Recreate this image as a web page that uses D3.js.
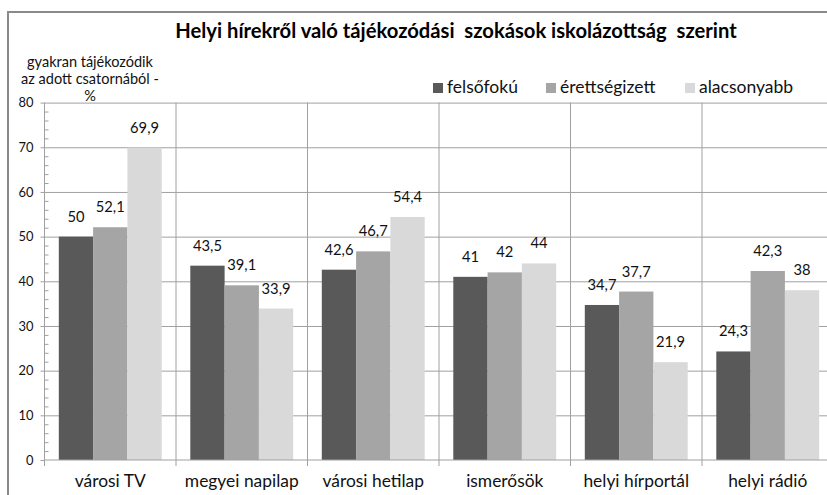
<!DOCTYPE html>
<html><head><meta charset="utf-8">
<script src="https://cdn.jsdelivr.net/npm/d3@7"></script>
<style>
body{margin:0;background:#fff}
svg{display:block}
text{font-family:Lato,'Open Sans',sans-serif;fill:#000}
</style>
</head><body>
<svg id="c" width="827" height="495"></svg>
<script>
// ---- data ----
const categories = ["városi TV","megyei napilap","városi hetilap","ismerősök","helyi hírportál","helyi rádió"];
const seriesNames = ["felsőfokú","érettségizett","alacsonyabb"];
const felsofoku = [50,43.5,42.6,41,34.7,24.3];
const erettsegizett = [52.1,39.1,46.7,42,37.7,42.3];
const alacsonyabb = [69.9,33.9,54.4,44,21.9,38];
const yTicks = [0,10,20,30,40,50,60,70,80];
const titleText = "Helyi hírekről való tájékozódási  szokások iskolázottság  szerint";
const yTitleLines = ["gyakran tájékozódik","az adott csatornából -","%"];

const seriesValues = [felsofoku, erettsegizett, alacsonyabb];
const colors = ["#595959","#a5a5a5","#d9d9d9"];
const gridColor = "#a0a0a0";

const svg = d3.select("#c");
svg.append("rect").attr("width",827).attr("height",495).attr("fill","#fff");
svg.append("rect").attr("x",8).attr("y",12).attr("width",900).attr("height",600)
  .attr("fill","none").attr("stroke","#8a8a8a").attr("stroke-width",2);

const pLeft = 44.5, band = 131.5, pTop = 102.6, pBottom = 460;
const x = d3.scaleBand().domain(categories).range([pLeft, pLeft + band*categories.length]);
const xs = d3.scaleBand().domain(seriesNames).range([14.3, band - 14.3]);
const y = d3.scaleLinear().domain([0,80]).range([pBottom, pTop]);
const plotW = band*categories.length;

function fit(sel, target){
  const w = sel.node().getComputedTextLength();
  const fs = parseFloat(sel.style("font-size"));
  sel.style("font-size", (fs*target/w) + "px");
}

// horizontal gridlines
const grid = svg.append("g").attr("transform",`translate(${pLeft},0)`)
  .call(d3.axisLeft(y).tickValues(yTicks.filter(v=>v>0)).tickSize(-plotW).tickFormat(""));
grid.select(".domain").remove();
grid.selectAll("line").attr("stroke",gridColor);

// vertical category-boundary gridlines + ticks below axis
const bounds = categories.map(c => x(c));
svg.append("g").selectAll("line").data(bounds.slice(1)).join("line")
  .attr("x1",d=>d).attr("x2",d=>d).attr("y1",pTop).attr("y2",pBottom+6)
  .attr("stroke",gridColor);

// bars
const groups = svg.append("g").selectAll("g").data(categories).join("g")
  .attr("transform", c => `translate(${x(c)},0)`);
groups.selectAll("rect").data((c,i) => seriesNames.map((s,j)=>({s, v: seriesValues[j][i], j})))
  .join("rect")
  .attr("x", d => xs(d.s)).attr("width", xs.bandwidth())
  .attr("y", d => y(d.v)).attr("height", d => y(0) - y(d.v))
  .attr("fill", d => colors[d.j]);

// data labels
const fmt = v => String(v).replace(".", ",");
const labels = groups.selectAll("text").data((c,i) => seriesNames.map((s,j)=>({s, v: seriesValues[j][i], j})))
  .join("text")
  .attr("x", d => xs(d.s) + xs.bandwidth()/2)
  .attr("y", d => y(d.v) - 15)
  .attr("text-anchor","middle")
  .style("font-size","15px")
  .style("fill","#111")
  .text(d => fmt(d.v));
{
  const probe = svg.append("text").style("font-size","15px").text("52,1");
  fit(probe, 29);
  labels.style("font-size", probe.style("font-size"));
  probe.remove();
}

// y axis
const yAxis = svg.append("g").attr("transform",`translate(${pLeft},0)`)
  .call(d3.axisLeft(y).tickValues(yTicks).tickSize(4).tickPadding(7));
yAxis.selectAll("line, path").attr("stroke",gridColor);
yAxis.select(".domain").attr("d", `M0,${pTop}V${pBottom+6}`);
yAxis.selectAll("text").style("font-family","Lato,'Open Sans',sans-serif").style("fill","#111");
{
  const probe = svg.append("text").style("font-size","14px").text("70");
  fit(probe, 15);
  yAxis.selectAll("text").style("font-size", probe.style("font-size"));
  probe.remove();
}
// minor ticks
const minor = d3.range(0,81,2).filter(v => v % 10 !== 0);
const yMinor = svg.append("g").attr("transform",`translate(${pLeft},0)`)
  .call(d3.axisRight(y).tickValues(minor).tickSize(4).tickFormat(""));
yMinor.select(".domain").remove();
yMinor.selectAll("line").attr("stroke",gridColor);

// x axis
const xAxis = svg.append("g").attr("transform",`translate(0,${pBottom})`)
  .call(d3.axisBottom(x).tickSize(0));
xAxis.select(".domain").attr("stroke",gridColor).attr("d", `M${pLeft},0H${pLeft+plotW}`);
xAxis.selectAll("text").attr("y",27).attr("dy",0)
  .style("font-family","Lato,'Open Sans',sans-serif").style("fill","#111");
{
  const probe = svg.append("text").style("font-size","16px").text("városi TV");
  fit(probe, 71);
  xAxis.selectAll("text").style("font-size", probe.style("font-size"));
  probe.remove();
}

// title
const title = svg.append("text").attr("x",456).attr("y",38).attr("text-anchor","middle")
  .style("font-weight","bold").style("font-size","18px").style("white-space","pre").text(titleText);
fit(title, 562);

// y axis title
const yt = svg.append("text").attr("text-anchor","middle").style("font-size","14px").style("fill","#111");
yt.selectAll("tspan").data(yTitleLines).join("tspan")
  .attr("x",90).attr("y",(d,i)=>67 + i*17).text(d=>d);
{
  const probe = svg.append("text").style("font-size","14px").text(yTitleLines[1]);
  fit(probe, 138);
  yt.style("font-size", probe.style("font-size"));
  probe.remove();
}

// legend
const legendX = [433, 546, 685];
const lg = svg.append("g").selectAll("g").data(seriesNames).join("g")
  .attr("transform",(d,i)=>`translate(${legendX[i]},83)`);
lg.append("rect").attr("width",10).attr("height",10).attr("fill",(d,i)=>colors[i]);
const lgText = lg.append("text").attr("x",14).attr("y",10).style("font-size","15px").style("fill","#111").text(d=>d);
{
  const probe = svg.append("text").style("font-size","15px").text("felsőfokú");
  fit(probe, 71);
  lgText.style("font-size", probe.style("font-size"));
  probe.remove();
}
</script>
</body></html>
